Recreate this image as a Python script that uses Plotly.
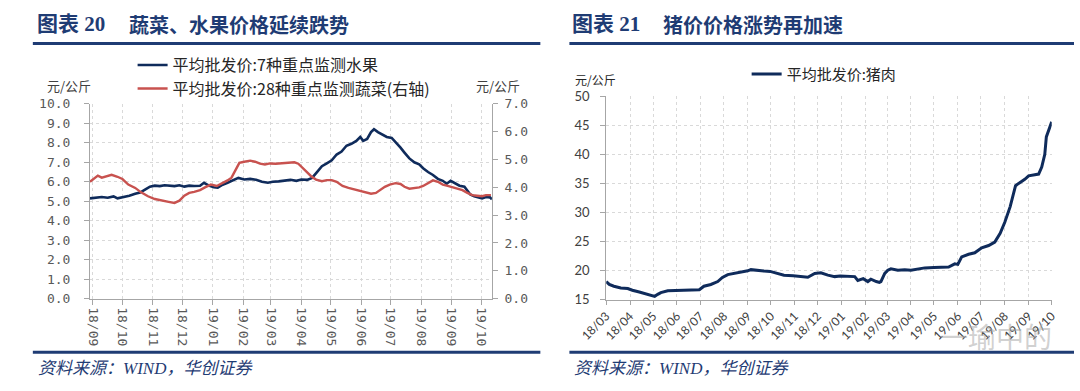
import plotly.graph_objects as go

# ---------------- data: left panel (fruit & vegetables) ----------------
fruit_dates = ["2018-08-29","2018-09-04","2018-09-10","2018-09-16","2018-09-22","2018-09-26","2018-10-02","2018-10-08",
               "2018-10-14","2018-10-19","2018-10-24","2018-10-29","2018-11-03","2018-11-08","2018-11-13","2018-11-18",
               "2018-11-23","2018-11-28","2018-12-03","2018-12-08","2018-12-13","2018-12-19","2018-12-23","2018-12-28",
               "2019-01-02","2019-01-06","2019-01-11","2019-01-16","2019-01-21","2019-01-27","2019-02-02","2019-02-08",
               "2019-02-14","2019-02-20","2019-02-26","2019-03-03","2019-03-09","2019-03-15","2019-03-21","2019-03-27",
               "2019-04-01","2019-04-07","2019-04-12","2019-04-17","2019-04-22","2019-04-27","2019-05-02","2019-05-07",
               "2019-05-12","2019-05-17","2019-05-22","2019-05-27","2019-05-31","2019-06-03","2019-06-07","2019-06-11",
               "2019-06-14","2019-06-18","2019-06-22","2019-06-27","2019-07-02","2019-07-07","2019-07-11","2019-07-15",
               "2019-07-20","2019-07-25","2019-07-30","2019-08-03","2019-08-08","2019-08-13","2019-08-18","2019-08-23",
               "2019-08-27","2019-08-31","2019-09-04","2019-09-09","2019-09-14","2019-09-17","2019-09-20","2019-09-24",
               "2019-09-27","2019-10-02","2019-10-06","2019-10-10","2019-10-12"]
fruit_values = [5.15,5.20,5.22,5.18,5.25,5.15,5.20,5.28,
                5.38,5.45,5.60,5.75,5.80,5.78,5.82,5.80,
                5.78,5.82,5.75,5.80,5.78,5.80,5.95,5.80,
                5.72,5.70,5.85,5.95,6.05,6.20,6.12,6.15,
                6.10,6.00,5.95,6.00,6.02,6.05,6.10,6.05,
                6.12,6.10,6.20,6.50,6.80,6.95,7.10,7.40,
                7.55,7.85,7.95,8.10,8.30,8.10,8.20,8.55,
                8.70,8.55,8.45,8.30,8.25,8.00,7.75,7.50,
                7.20,7.00,6.90,6.70,6.50,6.35,6.15,6.05,
                5.90,6.05,5.95,5.80,5.75,5.55,5.35,5.25,
                5.20,5.15,5.22,5.20,5.10]

veg_dates = ["2018-08-29","2018-09-02","2018-09-06","2018-09-10","2018-09-14","2018-09-20","2018-09-26","2018-10-01",
             "2018-10-07","2018-10-14","2018-10-20","2018-10-27","2018-11-03","2018-11-10","2018-11-17","2018-11-23",
             "2018-11-28","2018-12-03","2018-12-08","2018-12-13","2018-12-19","2018-12-24","2018-12-30","2019-01-05",
             "2019-01-11","2019-01-16","2019-01-20","2019-01-24","2019-01-28","2019-02-02","2019-02-08","2019-02-13",
             "2019-02-18","2019-02-23","2019-02-28","2019-03-06","2019-03-13","2019-03-19","2019-03-25","2019-03-29",
             "2019-04-02","2019-04-06","2019-04-11","2019-04-16","2019-04-22","2019-04-27","2019-05-02","2019-05-07",
             "2019-05-13","2019-05-19","2019-05-25","2019-05-31","2019-06-06","2019-06-11","2019-06-16","2019-06-20",
             "2019-06-25","2019-06-30","2019-07-06","2019-07-11","2019-07-15","2019-07-20","2019-07-25","2019-07-30",
             "2019-08-03","2019-08-08","2019-08-13","2019-08-18","2019-08-23","2019-08-28","2019-09-02","2019-09-07",
             "2019-09-12","2019-09-17","2019-09-22","2019-09-27","2019-10-02","2019-10-06","2019-10-11"]
veg_values = [4.20,4.30,4.42,4.35,4.38,4.45,4.38,4.30,
              4.10,3.98,3.82,3.68,3.58,3.52,3.48,3.44,
              3.52,3.70,3.80,3.84,3.90,4.00,4.10,4.05,
              4.15,4.25,4.35,4.60,4.88,4.92,4.96,4.92,
              4.85,4.82,4.86,4.85,4.87,4.88,4.90,4.85,
              4.70,4.55,4.40,4.28,4.22,4.26,4.26,4.20,
              4.05,3.98,3.92,3.88,3.80,3.77,3.80,3.90,
              4.02,4.10,4.15,4.12,4.02,3.95,3.97,4.00,
              4.05,4.15,4.25,4.20,4.10,4.05,4.00,3.95,
              3.90,3.80,3.72,3.70,3.68,3.72,3.72]

left_tick_dates = ["2018-09-01","2018-10-01","2018-11-01","2018-12-01","2019-01-01","2019-02-01","2019-03-01",
                   "2019-04-01","2019-05-01","2019-06-01","2019-07-01","2019-08-01","2019-09-01","2019-10-01"]
left_tick_labels = ["18/09","18/10","18/11","18/12","19/01","19/02","19/03",
                    "19/04","19/05","19/06","19/07","19/08","19/09","19/10"]

# ---------------- data: right panel (pork) ----------------
pork_dates = ["2018-03-01","2018-03-05","2018-03-11","2018-03-20","2018-03-29","2018-04-04","2018-04-13","2018-04-22",
              "2018-04-28","2018-05-03","2018-05-07","2018-05-11","2018-05-20","2018-05-29","2018-06-07","2018-06-15",
              "2018-06-24","2018-06-30","2018-07-06","2018-07-15","2018-07-24","2018-07-30","2018-08-06","2018-08-15",
              "2018-08-23","2018-09-01","2018-09-05","2018-09-14","2018-09-22","2018-09-30","2018-10-10","2018-10-18",
              "2018-10-30","2018-11-09","2018-11-18","2018-11-27","2018-12-05","2018-12-14","2018-12-23","2018-12-30",
              "2019-01-09","2019-01-18","2019-01-22","2019-01-29","2019-02-04","2019-02-08","2019-02-15","2019-02-19",
              "2019-02-21","2019-02-26","2019-03-02","2019-03-06","2019-03-15","2019-03-24","2019-04-01","2019-04-11",
              "2019-04-19","2019-05-01","2019-05-11","2019-05-20","2019-05-28","2019-06-01","2019-06-06","2019-06-15",
              "2019-06-23","2019-07-02","2019-07-11","2019-07-19","2019-07-26","2019-08-01","2019-08-08","2019-08-15",
              "2019-08-19","2019-08-27","2019-09-01","2019-09-09","2019-09-14","2019-09-18","2019-09-20","2019-09-22",
              "2019-09-24","2019-09-27","2019-10-01"]
pork_values = [18.1,17.6,17.3,17.0,16.9,16.6,16.3,16.0,
               15.8,15.55,15.9,16.2,16.5,16.55,16.5,16.6,
               16.65,16.7,17.3,17.6,18.1,18.8,19.3,19.5,
               19.65,19.95,20.15,19.95,19.9,19.85,19.5,19.2,
               19.1,18.95,18.85,19.5,19.6,19.2,18.95,19.05,
               19.05,18.95,18.3,18.6,18.1,18.5,18.1,17.95,
               18.1,19.5,20.05,20.3,20.05,20.15,20.05,20.3,
               20.45,20.5,20.6,20.6,21.15,21.05,22.35,22.8,
               23.05,23.9,24.3,24.9,26.4,28.3,31.0,34.6,
               35.0,35.7,36.3,36.5,36.6,37.8,38.7,40.0,
               43.0,44.0,45.6]

right_tick_dates = ["2018-03-01","2018-04-01","2018-05-01","2018-06-01","2018-07-01","2018-08-01","2018-09-01",
                    "2018-10-01","2018-11-01","2018-12-01","2019-01-01","2019-02-01","2019-03-01","2019-04-01",
                    "2019-05-01","2019-06-01","2019-07-01","2019-08-01","2019-09-01","2019-10-01"]
right_tick_labels = ["18/03","18/04","18/05","18/06","18/07","18/08","18/09","18/10","18/11","18/12",
                     "19/01","19/02","19/03","19/04","19/05","19/06","19/07","19/08","19/09","19/10"]

# ---------------- styling ----------------
W, H = 1080, 391
def px(x): return x / W
def py(y): return 1 - y / H

NAVY = "#1F3C74"
BLUE_LINE = "#0F2B5B"
RED_LINE = "#C8524F"
GRID = "#D9D9D9"
AXIS = "#A6A6A6"
CJK = "Noto Sans CJK SC"
SERIF_CJK = "Liberation Serif, Noto Sans CJK SC"

fig = go.Figure()

fig.add_trace(go.Scatter(x=fruit_dates, y=fruit_values, mode="lines", name="平均批发价:7种重点监测水果",
                         line=dict(color=BLUE_LINE, width=2.6), xaxis="x", yaxis="y", legend="legend"))
fig.add_trace(go.Scatter(x=veg_dates, y=veg_values, mode="lines", name="平均批发价:28种重点监测蔬菜(右轴)",
                         line=dict(color=RED_LINE, width=2.4), xaxis="x", yaxis="y2", legend="legend3"))
fig.add_trace(go.Scatter(x=pork_dates, y=pork_values, mode="lines", name="平均批发价:猪肉",
                         line=dict(color=BLUE_LINE, width=3), xaxis="x3", yaxis="y3", legend="legend2"))

left_font = dict(family="DejaVu Sans Mono", size=13, color="#595959")
right_font = dict(family="Lato, Liberation Sans, sans-serif", size=13, color="#404040")
leg_common = dict(xanchor="left", yanchor="middle", bgcolor="rgba(0,0,0,0)", borderwidth=0, itemwidth=30)

fig.update_layout(
    width=W, height=H, autosize=False,
    margin=dict(l=0, r=0, t=0, b=0),
    paper_bgcolor="white", plot_bgcolor="white",
    showlegend=True,
    xaxis=dict(domain=[px(64), px(479)], anchor="y", type="date",
               range=["2018-08-29", "2019-10-12"],
               tickmode="array", tickvals=left_tick_dates, ticktext=left_tick_labels,
               tickangle=90, tickfont=left_font,
               showgrid=True, gridcolor=GRID, griddash="dot", gridwidth=1,
               showline=True, linecolor=AXIS, linewidth=1,
               ticks="outside", ticklen=5, tickcolor=AXIS, zeroline=False),
    yaxis=dict(domain=[py(303), py(100)], anchor="x", range=[0, 10], dtick=1, tick0=0,
               tickformat=".1f", tickfont=left_font,
               showgrid=True, gridcolor=GRID, griddash="dot", gridwidth=1,
               showline=True, linecolor=AXIS, linewidth=1,
               ticks="outside", ticklen=5, tickcolor=AXIS, zeroline=False,
               ticklabelstandoff=11),
    yaxis2=dict(overlaying="y", side="right", anchor="x", range=[0, 7], dtick=1, tick0=0,
                tickformat=".1f", tickfont=left_font, showgrid=False,
                showline=True, linecolor=AXIS, linewidth=1,
                ticks="outside", ticklen=5, tickcolor=AXIS, zeroline=False,
                ticklabelstandoff=4),
    xaxis3=dict(domain=[px(597), px(1057)], anchor="y3", type="date",
                range=["2018-03-01", "2019-10-01"],
                tickmode="array", tickvals=right_tick_dates, ticktext=right_tick_labels,
                tickangle=-45, tickfont=dict(family="Lato, sans-serif", size=12, color="#404040"),
                showgrid=True, gridcolor=GRID, griddash="dot", gridwidth=1,
                showline=True, linecolor=AXIS, linewidth=1,
                ticks="outside", ticklen=4, tickcolor=AXIS, zeroline=False),
    yaxis3=dict(domain=[py(304), py(92)], anchor="x3", range=[15, 50], dtick=5, tick0=15,
                tickfont=right_font,
                showgrid=True, gridcolor=GRID, griddash="dot", gridwidth=1,
                showline=True, linecolor=AXIS, linewidth=1,
                ticks="outside", ticklen=5, tickcolor=AXIS, zeroline=False,
                ticklabelstandoff=8),
    legend=dict(x=px(108), y=py(59.5), font=dict(family=CJK, size=16, color="#262626"), **leg_common),
    legend3=dict(x=px(108), y=py(84), font=dict(family=CJK, size=16, color="#262626"), **leg_common),
    legend2=dict(x=px(742), y=py(69), font=dict(family=CJK, size=15, color="#262626"), **leg_common),
)

annotations = [
    # titles
    dict(text="<b>图表 20</b>", x=px(7), y=py(17), xanchor="left", yanchor="middle",
         font=dict(family=SERIF_CJK, size=21, color=NAVY)),
    dict(text="<b>蔬菜、水果价格延续跌势</b>", x=px(102), y=py(17), xanchor="left", yanchor="middle",
         font=dict(family=CJK, size=20, color=NAVY)),
    dict(text="<b>图表 21</b>", x=px(560), y=py(17), xanchor="left", yanchor="middle",
         font=dict(family=SERIF_CJK, size=21, color=NAVY)),
    dict(text="<b>猪价价格涨势再加速</b>", x=px(654), y=py(17), xanchor="left", yanchor="middle",
         font=dict(family=CJK, size=20, color=NAVY)),
    # units
    dict(text="元/公斤", x=px(18), y=py(81), xanchor="left", yanchor="middle",
         font=dict(family=CJK, size=13, color="#404040")),
    dict(text="元/公斤", x=px(461), y=py(81), xanchor="left", yanchor="middle",
         font=dict(family=CJK, size=13, color="#404040")),
    dict(text="元/公斤", x=px(563), y=py(75), xanchor="left", yanchor="middle",
         font=dict(family=CJK, size=12, color="#262626")),
    # sources
    dict(text="<i>资料来源：WIND，华创证券</i>", x=px(8), y=py(376), xanchor="left", yanchor="middle",
         font=dict(family=SERIF_CJK, size=17, color=NAVY)),
    dict(text="<i>资料来源：WIND，华创证券</i>", x=px(562), y=py(376), xanchor="left", yanchor="middle",
         font=dict(family=SERIF_CJK, size=17, color=NAVY)),
    # watermark
    dict(text="一瑜中的", x=px(940), y=py(342), xanchor="left", yanchor="middle",
         font=dict(family=CJK, size=28, color="rgba(170,170,170,0.55)")),
]
for a in annotations:
    a.update(xref="paper", yref="paper", showarrow=False)
fig.update_layout(annotations=annotations)

shapes = [
    dict(type="line", x0=px(5), x1=px(529), y0=py(37), y1=py(37), line=dict(color=NAVY, width=3)),
    dict(type="line", x0=px(5), x1=px(529), y0=py(359), y1=py(359), line=dict(color=NAVY, width=3)),
    dict(type="line", x0=px(559), x1=px(1080), y0=py(37), y1=py(37), line=dict(color=NAVY, width=3)),
    dict(type="line", x0=px(559), x1=px(1080), y0=py(359), y1=py(359), line=dict(color=NAVY, width=3)),
]
for s in shapes:
    s.update(xref="paper", yref="paper")
fig.update_layout(shapes=shapes)

fig.write_html("out.html", config={"displayModeBar": False},
               post_script="document.body.style.margin='0';document.body.style.overflow='hidden';")
